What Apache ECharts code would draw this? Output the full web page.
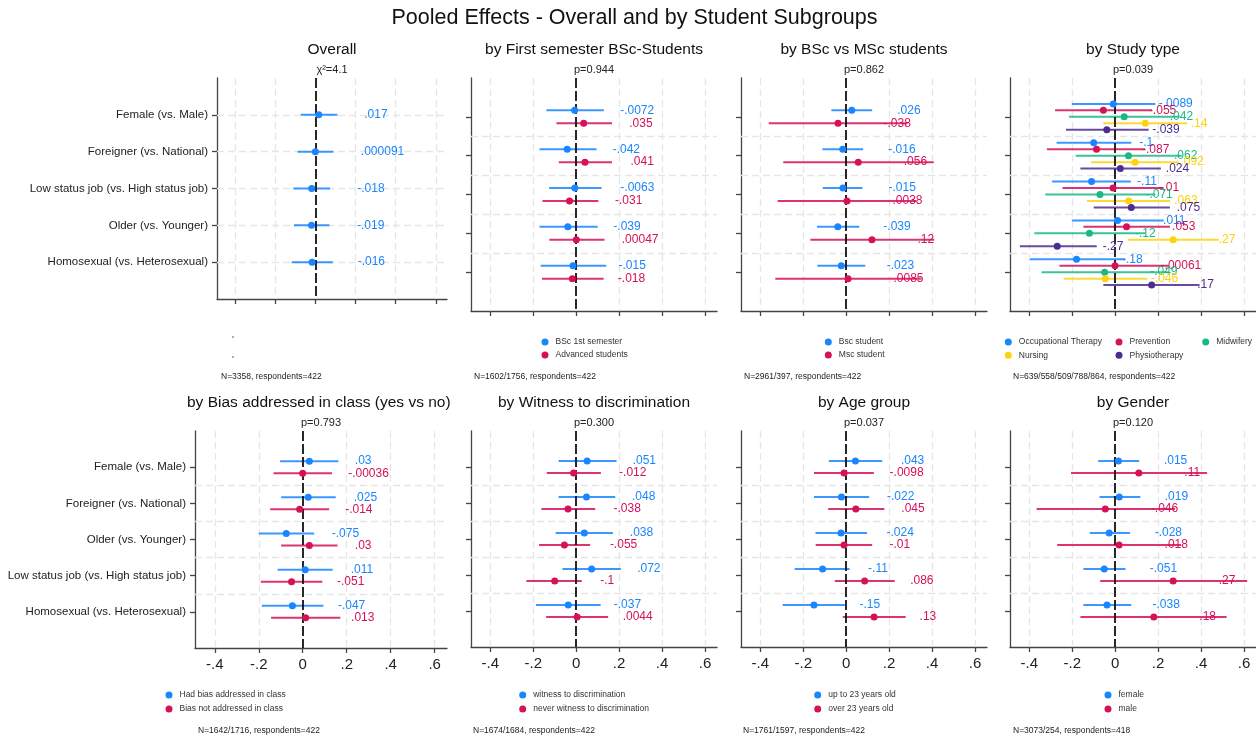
<!DOCTYPE html>
<html><head><meta charset="utf-8">
<script src="https://cdn.jsdelivr.net/npm/echarts@6/dist/echarts.min.js"></script>
<style>html,body{margin:0;padding:0;background:#fff}#c{width:1256px;height:738px}</style>
</head><body><div id="c"></div>
<script>
// ---------- DATA ----------
const xTicks = [-0.4, -0.2, 0, 0.2, 0.4, 0.6];
const topCats = ['Female (vs. Male)', 'Foreigner (vs. National)', 'Low status job (vs. High status job)', 'Older (vs. Younger)', 'Homosexual (vs. Heterosexual)'];
const bottomCats = ['Female (vs. Male)', 'Foreigner (vs. National)', 'Older (vs. Younger)', 'Low status job (vs. High status job)', 'Homosexual (vs. Heterosexual)'];

// Overall
const overallEst = [0.017, 0.000091, -0.018, -0.019, -0.016];
const overallLo  = [-0.073, -0.088, -0.11, -0.107, -0.118];
const overallHi  = [0.11, 0.09, 0.073, 0.07, 0.087];
// First semester
const bsc1Est = [-0.0072, -0.042, -0.0063, -0.039, -0.015];
const bsc1Lo  = [-0.139, -0.171, -0.126, -0.171, -0.165];
const bsc1Hi  = [0.129, 0.095, 0.118, 0.1, 0.14];
const advEst  = [0.035, 0.041, -0.031, 0.00047, -0.018];
const advLo   = [-0.092, -0.081, -0.157, -0.125, -0.159];
const advHi   = [0.167, 0.167, 0.103, 0.132, 0.128];
// BSc vs MSc
const bscEst = [0.026, -0.016, -0.015, -0.039, -0.023];
const bscLo  = [-0.069, -0.111, -0.109, -0.136, -0.134];
const bscHi  = [0.121, 0.079, 0.076, 0.061, 0.089];
const mscEst = [-0.038, 0.056, 0.0038, 0.12, 0.0085];
const mscLo  = [-0.361, -0.293, -0.319, -0.167, -0.33];
const mscHi  = [0.286, 0.408, 0.327, 0.41, 0.35];
// Study type
const otEst   = [-0.0089, -0.1, -0.11, 0.011, -0.18];
const otLo    = [-0.202, -0.273, -0.294, -0.202, -0.397];
const otHi    = [0.187, 0.075, 0.073, 0.226, 0.047];
const prevEst = [-0.055, -0.087, -0.01, 0.053, -0.00061];
const prevLo  = [-0.28, -0.318, -0.245, -0.148, -0.26];
const prevHi  = [0.171, 0.14, 0.226, 0.255, 0.249];
const midEst  = [0.042, 0.062, -0.071, -0.12, -0.049];
const midLo   = [-0.215, -0.184, -0.326, -0.377, -0.343];
const midHi   = [0.3, 0.31, 0.187, 0.14, 0.249];
const nursEst = [0.14, 0.092, 0.063, 0.27, -0.046];
const nursLo  = [-0.055, -0.112, -0.131, 0.059, -0.24];
const nursHi  = [0.335, 0.296, 0.257, 0.483, 0.15];
const physEst = [-0.039, 0.024, 0.075, -0.27, 0.17];
const physLo  = [-0.229, -0.162, -0.1, -0.444, -0.055];
const physHi  = [0.156, 0.213, 0.255, -0.086, 0.393];
// Bias addressed
const biasYesEst = [0.03, 0.025, -0.075, 0.011, -0.047];
const biasYesLo  = [-0.103, -0.098, -0.2, -0.114, -0.186];
const biasYesHi  = [0.162, 0.15, 0.052, 0.136, 0.094];
const biasNoEst  = [-0.00036, -0.014, 0.03, -0.051, 0.013];
const biasNoLo   = [-0.133, -0.148, -0.098, -0.191, -0.144];
const biasNoHi   = [0.133, 0.12, 0.158, 0.089, 0.171];
// Witness
const witEst   = [0.051, 0.048, 0.038, 0.072, -0.037];
const witLo    = [-0.082, -0.082, -0.096, -0.064, -0.187];
const witHi    = [0.188, 0.182, 0.171, 0.208, 0.114];
const noWitEst = [-0.012, -0.038, -0.055, -0.1, 0.0044];
const noWitLo  = [-0.137, -0.162, -0.173, -0.232, -0.14];
const noWitHi  = [0.115, 0.089, 0.065, 0.026, 0.149];
// Age
const youngEst = [0.043, -0.022, -0.024, -0.11, -0.15];
const youngLo  = [-0.081, -0.15, -0.143, -0.24, -0.296];
const youngHi  = [0.168, 0.107, 0.097, 0.016, -0.006];
const oldEst   = [-0.0098, 0.045, -0.01, 0.086, 0.13];
const oldLo    = [-0.15, -0.084, -0.142, -0.053, -0.016];
const oldHi    = [0.129, 0.178, 0.121, 0.226, 0.277];
// Gender
const femEst  = [0.015, 0.019, -0.028, -0.051, -0.038];
const femLo   = [-0.079, -0.073, -0.118, -0.148, -0.148];
const femHi   = [0.112, 0.117, 0.069, 0.048, 0.075];
const maleEst = [0.11, -0.046, 0.018, 0.27, 0.18];
const maleLo  = [-0.206, -0.366, -0.27, -0.07, -0.162];
const maleHi  = [0.428, 0.279, 0.307, 0.615, 0.519];

// ---------- STYLE / LAYOUT ----------
const BLUE = '#1a85ff', RED = '#d41159', GREEN = '#1ab885', YELLOW = '#fdd20e', PURPLE = '#4b2c91';
const FONT = '"Liberation Sans", Arial, Helvetica, sans-serif';

const panels = [
  {title:'Overall', stat:'\u03c7\u00b2=4.1', cats:topCats, hgrid:[1,2,3,4,5], foot:'N=3358, respondents=422',
   groups:[{name:'Overall', color:BLUE, est:overallEst, lo:overallLo, hi:overallHi}]},
  {title:'by First semester BSc-Students', stat:'p=0.944', cats:topCats, hgrid:[1.5,2.5,3.5,4.5], foot:'N=1602/1756, respondents=422',
   groups:[{name:'BSc 1st semester', color:BLUE, est:bsc1Est, lo:bsc1Lo, hi:bsc1Hi},
           {name:'Advanced students', color:RED, est:advEst, lo:advLo, hi:advHi}]},
  {title:'by BSc vs MSc students', stat:'p=0.862', cats:topCats, hgrid:[1.5,2.5,3.5,4.5], foot:'N=2961/397, respondents=422',
   groups:[{name:'Bsc student', color:BLUE, est:bscEst, lo:bscLo, hi:bscHi},
           {name:'Msc student', color:RED, est:mscEst, lo:mscLo, hi:mscHi}]},
  {title:'by Study type', stat:'p=0.039', cats:topCats, hgrid:[1.5,2.5,3.5,4.5], foot:'N=639/558/509/788/864, respondents=422',
   groups:[{name:'Occupational Therapy', color:BLUE, est:otEst, lo:otLo, hi:otHi},
           {name:'Prevention', color:RED, est:prevEst, lo:prevLo, hi:prevHi},
           {name:'Midwifery', color:GREEN, est:midEst, lo:midLo, hi:midHi},
           {name:'Nursing', color:YELLOW, est:nursEst, lo:nursLo, hi:nursHi},
           {name:'Physiotherapy', color:PURPLE, est:physEst, lo:physLo, hi:physHi}]},
  {title:'by Bias addressed in class (yes vs no)', stat:'p=0.793', cats:bottomCats, hgrid:[1.5,2.5,3.5,4.5], foot:'N=1642/1716, respondents=422',
   groups:[{name:'Had bias addressed in class', color:BLUE, est:biasYesEst, lo:biasYesLo, hi:biasYesHi},
           {name:'Bias not addressed in class', color:RED, est:biasNoEst, lo:biasNoLo, hi:biasNoHi}]},
  {title:'by Witness to discrimination', stat:'p=0.300', cats:bottomCats, hgrid:[1.5,2.5,3.5,4.5], foot:'N=1674/1684, respondents=422',
   groups:[{name:'witness to discrimination', color:BLUE, est:witEst, lo:witLo, hi:witHi},
           {name:'never witness to discrimination', color:RED, est:noWitEst, lo:noWitLo, hi:noWitHi}]},
  {title:'by Age group', stat:'p=0.037', cats:bottomCats, hgrid:[1.5,2.5,3.5,4.5], foot:'N=1761/1597, respondents=422',
   groups:[{name:'up to 23 years old', color:BLUE, est:youngEst, lo:youngLo, hi:youngHi},
           {name:'over 23 years old', color:RED, est:oldEst, lo:oldLo, hi:oldHi}]},
  {title:'by Gender', stat:'p=0.120', cats:bottomCats, hgrid:[1.5,2.5,3.5,4.5], foot:'N=3073/254, respondents=418',
   groups:[{name:'female', color:BLUE, est:femEst, lo:femLo, hi:femHi},
           {name:'male', color:RED, est:maleEst, lo:maleLo, hi:maleHi}]}
];

// [left, top, width, height]
const rects = [[217,78,230,221],[471,78,246,233],[741,78,246,233],[1010,78,246,233],
               [195,431,252,217],[471,431,246,216],[741,431,246,216],[1010,431,246,216]];
const footPos = [[221,377],[474,377],[744,377],[1013,377],[198,731],[473,731],[743,731],[1013,731]];
// legend columns: [panelIndex, left, top, itemGap, group indices]
const legendCols = [[1,541.5,337,3,[0,1]],[2,824.8,337,3,[0,1]],
                    [3,1004.8,337,3.3,[0,3]],[3,1115.5,337,3.3,[1,4]],[3,1202.2,337,3.3,[2]],
                    [4,165.5,690,4,[0,1]],[5,519.2,690,4,[0,1]],[6,814.2,690,4,[0,1]],[7,1104.5,690,4,[0,1]]];

const fmt = v => { if (v === 0) return '0'; return String(+v.toFixed(6)).replace(/^(-?)0\./, '$1.'); };
const offsets = {1:[0], 2:[-1/6, 1/6], 5:[-1/3, -1/6, 0, 1/6, 1/3]};

const grids = [], xAxes = [], yAxes = [], series = [], legends = [], graphics = [];

panels.forEach((p, i) => {
  const r = rects[i];
  const bottom = i >= 4;
  const leftCol = (i === 0 || i === 4);
  grids.push({left:r[0], top:r[1], width:r[2], height:r[3], containLabel:false});
  xAxes.push({type:'value', gridIndex:i, min:-0.49, max:0.656,
    axisLine:{show:true, onZero:false, lineStyle:{color:'#444', width:1.3}},
    axisTick:{show:true, customValues:xTicks, length:5, lineStyle:{color:'#444', width:1.3}},
    axisLabel:{show:bottom, customValues:xTicks, formatter:fmt, fontSize:15, color:'#222', margin:9, fontFamily:FONT},
    splitLine:{show:false}});
  yAxes.push({type:'value', gridIndex:i, min:0, max:6, inverse:true,
    axisLine:{show:true, onZero:false, lineStyle:{color:'#444', width:1.3}},
    axisTick:{show:true, customValues:[1,2,3,4,5], length:5, lineStyle:{color:'#444', width:1.3}},
    axisLabel:{show:leftCol, customValues:[1,2,3,4,5], formatter:v => p.cats[Math.round(v)-1] || '', fontSize:11.5, color:'#222', margin:9, fontFamily:FONT},
    splitLine:{show:false}});

  // background grid lines
  const gl = {type:[7,4], color:'#e6e6e6', width:1.3};
  series.push({type:'scatter', xAxisIndex:i, yAxisIndex:i, data:[], z:1, silent:true,
    markLine:{z:1, silent:true, symbol:['none','none'], label:{show:false}, animation:false, lineStyle:gl,
      data: xTicks.filter(t => t !== 0).map(t => ({xAxis:t})).concat(p.hgrid.map(h => ({yAxis:h})))}});
  // zero line
  series.push({type:'scatter', xAxisIndex:i, yAxisIndex:i, data:[], z:3, silent:true,
    markLine:{z:3, silent:true, symbol:['none','none'], label:{show:false}, animation:false,
      lineStyle:{type:[10,3], color:'#111', width:1.8}, data:[{xAxis:0}]}});

  const offs = offsets[p.groups.length];
  p.groups.forEach((g, gi) => {
    const ys = g.est.map((_, k) => k + 1 + offs[gi]);
    series.push({type:'custom', name:g.name, xAxisIndex:i, yAxisIndex:i, z:2, silent:true,
      itemStyle:{color:g.color},
      encode:{x:[0,1], y:2},
      data: g.lo.map((lo, k) => [lo, g.hi[k], ys[k]]),
      renderItem: (params, api) => {
        const a = api.coord([api.value(0), api.value(2)]);
        const b = api.coord([api.value(1), api.value(2)]);
        return {type:'line', shape:{x1:a[0], y1:a[1], x2:b[0], y2:b[1]},
          style:{stroke:g.color, lineWidth:2, opacity:0.85}};
      }});
    series.push({type:'scatter', name:g.name, xAxisIndex:i, yAxisIndex:i, z:4,
      symbol:'circle', symbolSize:7, itemStyle:{color:g.color, opacity:1},
      data: g.est.map((e, k) => [e, ys[k]]),
      label:{show:true, position:'right', distance:42, color:g.color, fontSize:12, fontFamily:FONT,
        formatter: prm => fmt(prm.value[0])}});
  });

  const cx = r[0] + r[2] / 2;
  const ty = bottom ? 403 : 50, sy = bottom ? 423 : 70;
  if (i === 4) {
    graphics.push({type:'text', x:187, y:ty, silent:true,
      style:{text:p.title, font:'15.5px ' + FONT, fill:'#111', textAlign:'left', textVerticalAlign:'middle',
        width:266, overflow:'truncate', ellipsis:''}});
  } else {
    graphics.push({type:'text', x:cx, y:ty, silent:true,
      style:{text:p.title, font:'15.5px ' + FONT, fill:'#111', textAlign:'center', textVerticalAlign:'middle'}});
  }
  graphics.push({type:'text', x:cx, y:sy, silent:true,
    style:{text:p.stat, font:'11px ' + FONT, fill:'#222', textAlign:'center', textVerticalAlign:'middle'}});
  graphics.push({type:'text', x:footPos[i][0], y:footPos[i][1], silent:true,
    style:{text:p.foot, font:'8.5px ' + FONT, fill:'#222', textAlign:'left', textVerticalAlign:'middle'}});
});

legendCols.forEach(lc => {
  const p = panels[lc[0]];
  legends.push({orient:'vertical', left:lc[1], top:lc[2], padding:0, itemGap:lc[3], itemWidth:7, itemHeight:7,
    icon:'circle', selectedMode:false,
    textStyle:{fontSize:8.5, color:'#333', lineHeight:10, fontFamily:FONT, padding:[0,0,0,2]},
    data: lc[4].map(k => p.groups[k].name)});
});

// tiny dots of the empty Overall legend
graphics.push({type:'circle', shape:{cx:233, cy:337, r:0.8}, style:{fill:'#444'}, silent:true});
graphics.push({type:'circle', shape:{cx:233, cy:357, r:0.8}, style:{fill:'#444'}, silent:true});
// main title
graphics.push({type:'text', x:634.5, y:18, silent:true,
  style:{text:'Pooled Effects - Overall and by Student Subgroups', font:'21.5px ' + FONT, fill:'#111', textAlign:'center', textVerticalAlign:'middle'}});

const chart = echarts.init(document.getElementById('c'), null, {renderer:'canvas'});
chart.setOption({animation:false, backgroundColor:'#fff', grid:grids, xAxis:xAxes, yAxis:yAxes,
  series:series, legend:legends, graphic:graphics});
</script></body></html>
